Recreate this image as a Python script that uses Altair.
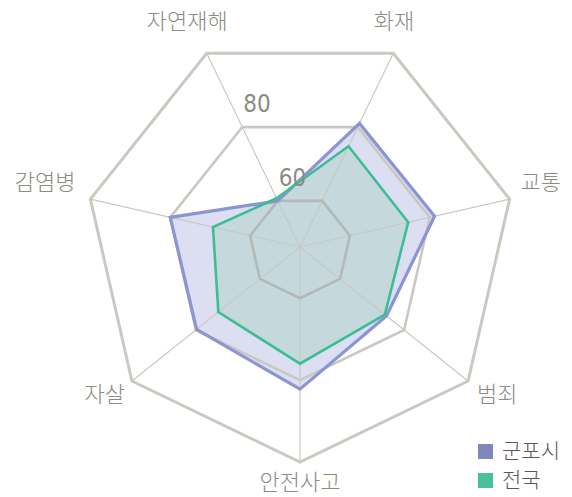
import altair as alt
import pandas as pd

# ---------------- data ----------------
categories = ["자연재해", "화재", "교통", "범죄", "안전사고", "자살", "감염병"]
series_names = ["군포시", "전국"]
gunpo_values = [60, 81, 81.2, 74.5, 82.2, 79.8, 80]
national_values = [60.7, 74.8, 74.6, 74, 76, 73, 69.3]
ring_values = [60, 80, 100]
ring_tick_labels = ["60", "80"]

# ---------------- geometry / style ----------------
VMIN = 47.5
N = len(categories)
PX_PER_UNIT = 4.095
CX, CY = 300, 247
W, H = 572, 497

x_dom = [-CX / PX_PER_UNIT, (W - CX) / PX_PER_UNIT]
y_dom = [-(H - CY) / PX_PER_UNIT, CY / PX_PER_UNIT]

purple_line = "#8c94d4"
green_line = "#3dbd96"
purple_fill = "#dcdff1"
green_fill = "#c5d9dd"
legend_colors = ["#8088bb", "#48c09c"]
grid_color = "#c9c9c2"
inner_grid_color = "#b2b9b7"
text_color = "#8b8b83"
KFONT = "'Noto Sans CJK KR', 'Noto Sans KR', 'Noto Sans CJK SC', sans-serif"
NFONT = "'DejaVu Sans Condensed', 'Liberation Sans Narrow', 'DejaVu Sans', sans-serif"

series_rows = []
for s, vals in zip(series_names, [gunpo_values, national_values]):
    for i, (c, v) in enumerate(zip(categories, vals)):
        series_rows.append({"series": s, "category": c, "idx": i, "value": v})
series_df = pd.DataFrame(series_rows)

ring_df = pd.DataFrame(
    [{"ring": r, "idx": i, "value": r} for r in ring_values for i in range(N)]
)
spoke_df = pd.DataFrame(
    {"idx": list(range(N)), "category": categories, "value": [ring_values[-1]] * N}
)
tick_df = pd.DataFrame(
    {"idx": [0] * len(ring_tick_labels), "value": ring_values[: len(ring_tick_labels)],
     "label": ring_tick_labels}
)


def polar(chart):
    return chart.transform_calculate(
        theta=f"(datum.idx - 0.5) * 2 * PI / {N}",
        r=f"datum.value - {VMIN}",
        zero="0",
    ).transform_calculate(
        px="datum.r * sin(datum.theta)",
        py="datum.r * cos(datum.theta)",
    )


X = alt.X("px:Q", scale=alt.Scale(domain=x_dom, nice=False, zero=False), axis=None)
Y = alt.Y("py:Q", scale=alt.Scale(domain=y_dom, nice=False, zero=False), axis=None)

layers = []

# fills
for name, fc in zip(series_names, [purple_fill, green_fill]):
    layers.append(
        polar(alt.Chart(series_df))
        .transform_filter(alt.datum.series == name)
        .mark_line(interpolate="linear-closed", fill=fc, strokeOpacity=0, strokeWidth=0)
        .encode(x=X, y=Y, order="idx:Q")
    )

# spokes
layers.append(
    polar(alt.Chart(spoke_df))
    .mark_rule(color=grid_color, strokeWidth=1.2)
    .encode(x=X, y=Y, x2=alt.X2("zero:Q"), y2=alt.Y2("zero:Q"))
)

# rings
ring_styles = {60: (inner_grid_color, 2.6), 80: (grid_color, 2.6), 100: (grid_color, 3.0)}
for rv in ring_values:
    col, sw = ring_styles[rv]
    layers.append(
        polar(alt.Chart(ring_df))
        .transform_filter(alt.datum.ring == rv)
        .mark_line(interpolate="linear-closed", color=col, strokeWidth=sw)
        .encode(x=X, y=Y, order="idx:Q")
    )

# series strokes
for name, lc, sw in zip(series_names, [purple_line, green_line], [3.2, 2.6]):
    layers.append(
        polar(alt.Chart(series_df))
        .transform_filter(alt.datum.series == name)
        .mark_line(interpolate="linear-closed", color=lc, strokeWidth=sw, strokeJoin="miter")
        .encode(x=X, y=Y, order="idx:Q")
    )

# legend carrier (invisible points)
layers.append(
    polar(alt.Chart(series_df))
    .mark_point(shape="square", filled=True, opacity=0, size=1)
    .encode(
        x=X, y=Y,
        color=alt.Color(
            "series:N",
            scale=alt.Scale(domain=series_names, range=legend_colors),
            legend=alt.Legend(
                title=None, orient="none", legendX=475, legendY=441,
                symbolType="square", symbolSize=225, symbolOpacity=1,
                symbolStrokeWidth=0, labelFontSize=21, labelFont=KFONT,
                labelFontWeight=300, labelColor="#585858", labelOffset=6, rowPadding=7,
            ),
        ),
    )
)

# category labels
label_specs = [
    ([0, 1], "right", 21, -31),
    ([2], "left", 11, -16),
    ([3], "left", 9, 14),
    ([4], "center", 0, 21),
    ([5], "right", -7, 14),
    ([6], "right", -15, -16),
]
for idxs, align, dx, dy in label_specs:
    layers.append(
        polar(alt.Chart(spoke_df))
        .transform_filter(alt.FieldOneOfPredicate(field="idx", oneOf=idxs))
        .mark_text(align=align, baseline="middle", dx=dx, dy=dy, font=KFONT,
                   fontSize=22, fontWeight=300, color=text_color)
        .encode(x=X, y=Y, text="category:N")
    )

# ring tick labels
layers.append(
    polar(alt.Chart(tick_df))
    .mark_text(align="left", baseline="bottom", dx=1, dy=-10,
               font=NFONT, fontSize=24, color=text_color)
    .encode(x=X, y=Y, text="label:N")
)

chart = (
    alt.layer(*layers)
    .properties(width=W, height=H, padding=0, autosize=alt.AutoSizeParams(type="none"))
    .configure_view(stroke=None)
)

chart.save("out.html", embed_options={"renderer": "svg", "actions": False})
